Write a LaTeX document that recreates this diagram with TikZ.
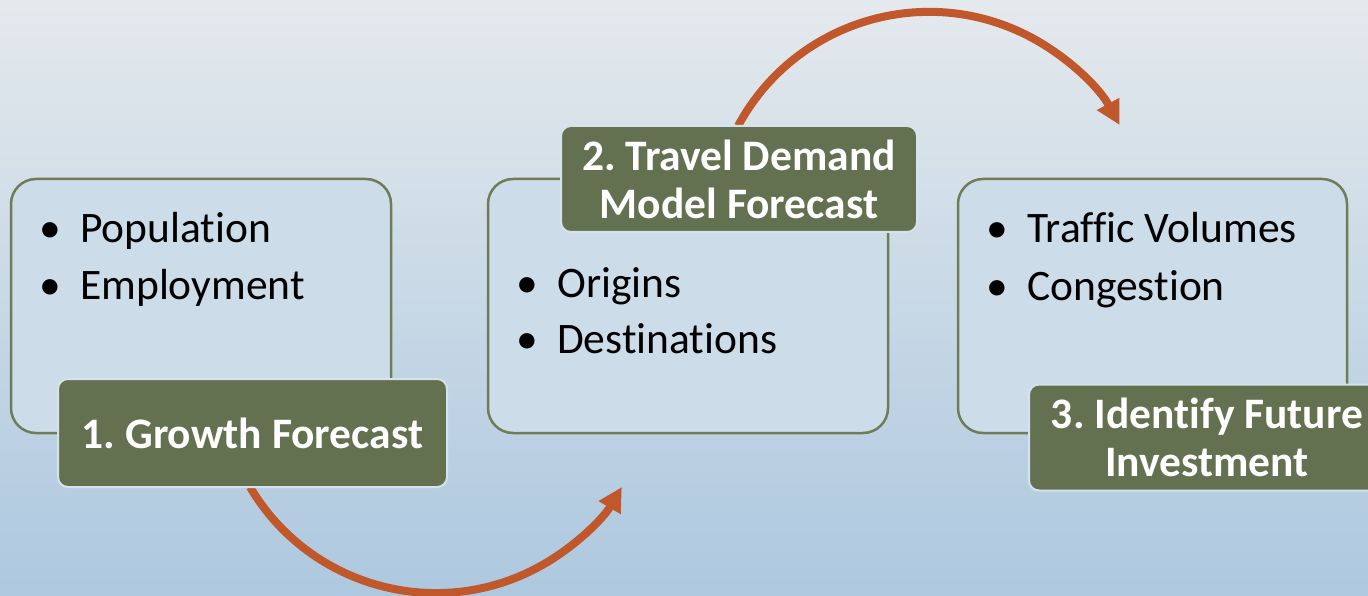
\documentclass[tikz,border=0pt]{standalone}
\usepackage{fontspec}
\setmainfont[Ligatures=NoCommon]{Carlito}
\usetikzlibrary{arrows.meta}
\definecolor{bgtop}{HTML}{E4E9ED}
\definecolor{bgbot}{HTML}{ADC8DF}
\definecolor{boxfill}{HTML}{CCDDE9}
\definecolor{boxline}{HTML}{6E7D58}
\definecolor{labfill}{HTML}{647150}
\definecolor{labline}{HTML}{D4E2EC}
\definecolor{arrowc}{HTML}{C0582B}
\tikzset{
  infobox/.style={draw=boxline, line width=2.5pt, fill=boxfill, rounded corners=25pt, minimum height=254pt, inner sep=0pt},
  labelbox/.style={draw=labline, line width=2pt, fill=labfill, rounded corners=10pt, minimum height=106pt, text=white, align=center, inner sep=0pt, font=\fontsize{43.5}{48}\selectfont\bfseries},
  bul/.style={anchor=base, inner sep=0pt, font=\fontsize{43.5}{51}\selectfont},
  item/.style={anchor=base west, inner sep=0pt, font=\fontsize{43.5}{51}\selectfont},
  flow/.style={draw=arrowc, line width=8pt, -{Triangle[length=24pt,width=24pt]}}
}
\begin{document}
\frenchspacing
\begin{tikzpicture}[x=1pt,y=-1pt]
\clip (0,0) rectangle (1368,596);
\shade[top color=bgtop, bottom color=bgbot] (0,0) rectangle (1368,596);
% arrows
\coordinate (a1s) at (250,487);
\coordinate (a2s) at (738,126);
\draw[flow] (a1s) arc[start angle=149.4, end angle=30.6, radius=216];
\draw[flow] (a2s) arc[start angle=208.3, end angle=331.4, radius=217];
% boxes
\node[infobox, minimum width=380pt] (b1) at (201,306) {};
\node[infobox, minimum width=400pt] (b2) at (688,306) {};
\node[infobox, minimum width=389pt] (b3) at (1152.5,306) {};
% bullets
\node[bul] (d11) at (50,243) {•};
\node[item] (t11) at (80,243) {Population};
\node[bul] (d12) at (50,299) {•};
\node[item] (t12) at (80,299) {Employment};
\node[bul] (d21) at (527,297) {•};
\node[item] (t21) at (557,297) {Origins};
\node[bul] (d22) at (527,353) {•};
\node[item] (t22) at (557,353) {Destinations};
\node[bul] (d31) at (997,243) {•};
\node[item] (t31) at (1027,243) {Traffic Volumes};
\node[bul] (d32) at (997,300) {•};
\node[item] (t32) at (1027,300) {Congestion};
% labels
\node[labelbox, minimum width=389pt, minimum height=108pt] (l1) at (252.5,433) {1. Growth Forecast};
\node[labelbox, minimum width=356pt] (l2) at (739,179) {2. Travel Demand\\Model Forecast};
\node[labelbox, minimum width=356pt] (l3) at (1207,437.5) {3. Identify Future\\Investment};
\end{tikzpicture}
\end{document}
